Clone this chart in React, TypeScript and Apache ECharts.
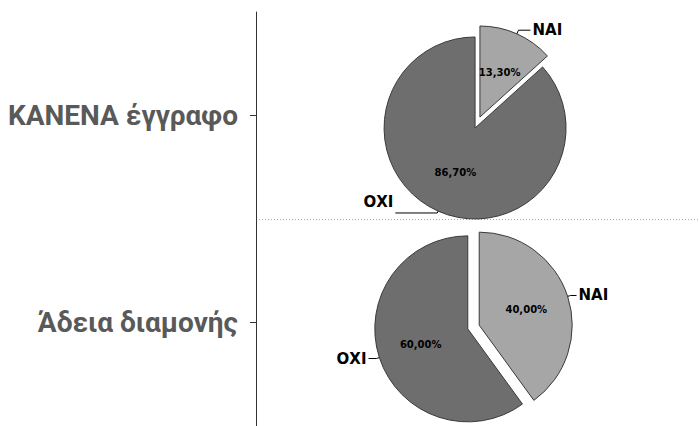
import React, { useEffect, useRef } from 'react';
import * as echarts from 'echarts';

const categories = ['ΚΑΝΕΝΑ έγγραφο', 'Άδεια διαμονής'];
const sliceNames = ['ΝΑΙ', 'ΟΧΙ'];
const noDocumentValues = [13.3, 86.7];
const residencePermitValues = [40.0, 60.0];

export default function App() {
  const ref = useRef<HTMLDivElement>(null);
  useEffect(() => {
    const chart = echarts.init(ref.current!, null, { renderer: 'svg' });
    const sliceColors = ['#a6a6a6', '#6e6e6e'];
    const fmt = (v: number) => v.toFixed(2).replace('.', ',') + '%';

    const build = (
      values: number[],
      center: [number, number],
      radius: number,
      lines: { length: number; length2: number; raise?: boolean }[]
    ) => {
      const fill = {
        type: 'pie',
        center,
        radius,
        startAngle: 90,
        clockwise: true,
        selectedMode: 'multiple',
        selectedOffset: 6,
        avoidLabelOverlap: false,
        silent: true,
        emphasis: { disabled: true },
        itemStyle: { borderColor: '#3a3a3a', borderWidth: 1 },
        label: {
          show: true,
          position: 'inner',
          formatter: (p: any) => fmt(p.value),
          fontFamily: 'DejaVu Sans',
          fontWeight: 'bold',
          fontSize: 10,
          color: '#000',
        },
        labelLine: { show: false },
        data: values.map((v, i) => ({
          name: sliceNames[i],
          value: v,
          selected: true,
          itemStyle: { color: sliceColors[i] },
        })),
      };
      const outer = {
        type: 'pie',
        center,
        radius,
        startAngle: 90,
        clockwise: true,
        selectedMode: 'multiple',
        selectedOffset: 6,
        avoidLabelOverlap: false,
        silent: true,
        z: 3,
        emphasis: { disabled: true },
        itemStyle: { color: 'rgba(0,0,0,0)', borderWidth: 0 },
        label: {
          show: true,
          position: 'outside',
          formatter: '{b}',
          fontFamily: 'DejaVu Sans',
          fontWeight: 'bold',
          fontSize: 15,
          color: '#000',
          distanceToLabelLine: 2,
        },
        labelLine: { show: true, lineStyle: { color: '#000', width: 1 } },
        data: values.map((v, i) => ({
          name: sliceNames[i],
          value: v,
          selected: true,
          labelLine: { length: lines[i].length, length2: lines[i].length2 },
          label: lines[i].raise ? { formatter: '{b}\n', lineHeight: 22 } : {},
        })),
      };
      return [fill, outer];
    };

    chart.setOption({
      animation: false,
      grid: { left: 256, right: 0, top: 12, bottom: -4, containLabel: false },
      xAxis: { type: 'value', show: false, min: 0, max: 1 },
      yAxis: {
        type: 'category',
        data: categories,
        inverse: true,
        boundaryGap: true,
        axisLine: { show: true, lineStyle: { color: '#333', width: 1 } },
        axisTick: { show: true, alignWithLabel: true, length: 6, lineStyle: { color: '#333' } },
        axisLabel: {
          margin: 18,
          fontFamily: 'Roboto',
          fontWeight: 'bold',
          fontSize: 28,
          color: '#595959',
        },
        splitLine: {
          show: true,
          showMinLine: false,
          showMaxLine: false,
          lineStyle: { color: '#a8a8a8', type: [1, 2], width: 1 },
        },
      },
      series: [
        ...build(noDocumentValues, [477.5, 122.5], 91, [
          { length: 4, length2: 12 },
          { length: 2, length2: 42, raise: true },
        ]),
        ...build(residencePermitValues, [473.5, 327], 93, [
          { length: 3, length2: 6 },
          { length: 3, length2: 8 },
        ]),
      ],
    } as any);
    return () => chart.dispose();
  }, []);
  return (
    <div
      ref={ref}
      style={{ position: 'fixed', left: 0, top: 0, width: 699, height: 426, background: '#fff' }}
    />
  );
}
